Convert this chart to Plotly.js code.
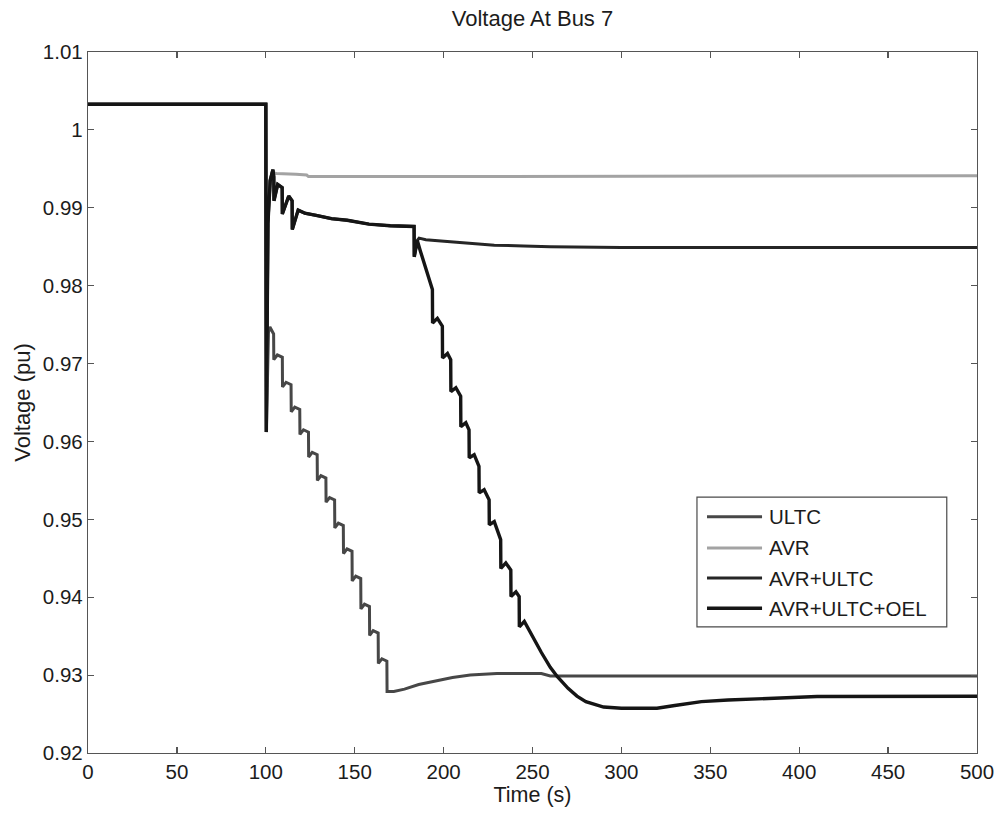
<!DOCTYPE html>
<html>
<head>
<meta charset="utf-8">
<script src="https://cdn.plot.ly/plotly-3.0.1.min.js"></script>
<style>
  html, body { margin: 0; padding: 0; background: #ffffff; }
  #chart { width: 996px; height: 814px; }
</style>
</head>
<body>
<div id="chart"></div>
<script>
// Bus 7 voltage after the disturbance at t = 100 s, for four control setups.

// ULTC only
const tULTC = [0, 100, 100.3, 101.5, 102.3, 104.4, 104.5, 106.5, 109.3, 109.4, 111.4, 114.2, 114.3, 116.3, 119.1,
  119.2, 121.2, 124.0, 124.1, 126.1, 128.9, 129.0, 131.0, 133.8, 133.9, 135.9, 138.7, 138.8, 140.8, 143.6,
  143.7, 145.7, 148.5, 148.6, 150.6, 153.4, 153.5, 155.5, 158.3, 158.4, 160.4, 163.2, 163.3, 165.3, 168.1,
  168.2, 172, 178, 186, 196, 205, 215, 230, 255, 260, 500];
const vULTC = [1.0033, 1.0033, 0.9612, 0.9740, 0.9747, 0.9738, 0.9705, 0.9711, 0.9708, 0.9670, 0.9676, 0.9673, 0.9638, 0.9644, 0.9641,
  0.9609, 0.9615, 0.9612, 0.9580, 0.9586, 0.9583, 0.9550, 0.9556, 0.9553, 0.9522, 0.9528, 0.9525, 0.9489, 0.9495, 0.9492,
  0.9456, 0.9462, 0.9459, 0.9421, 0.9427, 0.9424, 0.9385, 0.9391, 0.9388, 0.9351, 0.9357, 0.9354, 0.9315, 0.9321, 0.9318,
  0.9279, 0.9279, 0.9282, 0.9288, 0.9293, 0.9297, 0.9300, 0.9302, 0.9302, 0.9299, 0.9299];

// AVR only
const tAVR = [0, 100, 100.3, 101.5, 103.5, 106, 117, 123, 124, 140, 500];
const vAVR = [1.0033, 1.0033, 0.9612, 0.9930, 0.9945, 0.9944, 0.9943, 0.9942, 0.9940, 0.9940, 0.9941];

// AVR+ULTC and AVR+ULTC+OEL run together until the tap sequence at ~184 s
const tShared = [0, 100, 100.3, 101.2, 102.5, 104, 104.5, 104.6, 106.7, 109.2, 109.3, 112.9, 114.8, 114.9, 118.2,
  122, 128.9, 137, 145.8, 158, 170, 183.4, 183.5, 185.2];
const vShared = [1.0033, 1.0033, 0.9612, 0.9880, 0.9935, 0.9949, 0.9940, 0.9909, 0.9930, 0.9926, 0.9892, 0.9915, 0.9909, 0.9872, 0.9897,
  0.9893, 0.9890, 0.9886, 0.9884, 0.9879, 0.9877, 0.9876, 0.9837, 0.9858];

// AVR+ULTC after the split
const tAvrUltcTail = [186.2, 190, 200.3, 215, 228.5, 245, 260, 300, 400, 500];
const vAvrUltcTail = [0.9861, 0.9859, 0.9857, 0.9854, 0.9852, 0.9851, 0.9850, 0.9849, 0.9849, 0.9849];

// AVR+ULTC+OEL after the split
const tOelTail = [187, 190, 193.7, 193.8, 196.5, 199.3, 199.4, 202.2, 204.0, 204.1, 206.9, 209.6, 209.7, 212.5, 214.3,
  214.4, 217.2, 219.9, 220.0, 222.8, 225.6, 225.7, 228.5, 232.1, 232.2, 235.0, 237.8, 237.9, 240.7, 242.5,
  242.6, 245.4, 248, 251, 255, 260, 264, 270, 275, 280, 285, 290, 300, 320, 330, 345, 360, 380, 400, 410, 500];
const vOelTail = [0.9844, 0.9823, 0.9795, 0.9752, 0.9758, 0.9748, 0.9707, 0.9713, 0.9705, 0.9664, 0.9669, 0.9658, 0.9619, 0.9624, 0.9615,
  0.9579, 0.9583, 0.9568, 0.9534, 0.9538, 0.9525, 0.9493, 0.9497, 0.9474, 0.9437, 0.9444, 0.9435, 0.9401, 0.9407, 0.9401,
  0.9362, 0.9369, 0.9358, 0.9345, 0.9329, 0.9310, 0.9298, 0.9283, 0.9273, 0.9266, 0.9262, 0.9259, 0.92575, 0.92575, 0.9261, 0.9266, 0.9268, 0.9270, 0.9272, 0.92725, 0.92728];

const xTicks = [0, 50, 100, 150, 200, 250, 300, 350, 400, 450, 500];
const yTicks = [0.92, 0.93, 0.94, 0.95, 0.96, 0.97, 0.98, 0.99, 1.00, 1.01];
const yTickText = ['0.92', '0.93', '0.94', '0.95', '0.96', '0.97', '0.98', '0.99', '1', '1.01'];

const seriesNames = ['ULTC', 'AVR', 'AVR+ULTC', 'AVR+ULTC+OEL'];

const FONT = '"Liberation Sans", Arial, Helvetica, sans-serif';
const TEXT_COLOR = '#1c1c1c';
const FRAME_COLOR = '#555555';

// line style of each series, shared by the traces and the key box
const lineStyles = [
  { color: '#474747', width: 3 },
  { color: '#a3a3a3', width: 3 },
  { color: '#262626', width: 3 },
  { color: '#151515', width: 3.4 }
];

const seriesX = [tULTC, tAVR, tShared.concat(tAvrUltcTail), tShared.concat(tOelTail)];
const seriesY = [vULTC, vAVR, vShared.concat(vAvrUltcTail), vShared.concat(vOelTail)];

const traces = seriesNames.map((name, i) => ({
  type: 'scatter',
  mode: 'lines',
  name: name,
  x: seriesX[i],
  y: seriesY[i],
  line: lineStyles[i],
  showlegend: false
}));

// key box drawn in paper coordinates, lower right of the axes
const keyBox = { x0: 0.685, x1: 0.966, y0: 0.180, y1: 0.365 };
const keyRowY = [0.337, 0.2925, 0.2495, 0.2065];
const keyLine = { x0: 0.6963, x1: 0.7582 };
const keyTextX = 0.7640;

const shapes = [{
  type: 'rect', xref: 'paper', yref: 'paper',
  x0: keyBox.x0, x1: keyBox.x1, y0: keyBox.y0, y1: keyBox.y1,
  line: { color: '#4a4a4a', width: 1.2 }, fillcolor: '#ffffff', layer: 'above'
}].concat(seriesNames.map((n, i) => ({
  type: 'line', xref: 'paper', yref: 'paper',
  x0: keyLine.x0, x1: keyLine.x1, y0: keyRowY[i], y1: keyRowY[i],
  line: lineStyles[i], layer: 'above'
})));

const annotations = seriesNames.map((n, i) => ({
  xref: 'paper', yref: 'paper',
  x: keyTextX, y: keyRowY[i],
  xanchor: 'left', yanchor: 'middle',
  text: n, showarrow: false,
  font: { family: FONT, size: 20.5, color: TEXT_COLOR }
}));

const axisCommon = {
  showline: true,
  linecolor: FRAME_COLOR,
  linewidth: 1.2,
  mirror: 'ticks',
  ticks: 'inside',
  ticklen: 6,
  tickwidth: 1.2,
  tickcolor: FRAME_COLOR,
  showgrid: false,
  zeroline: false,
  tickfont: { family: FONT, size: 20.5, color: TEXT_COLOR }
};

const layout = {
  width: 996,
  height: 814,
  paper_bgcolor: '#ffffff',
  plot_bgcolor: '#ffffff',
  margin: { l: 88, r: 19, t: 52, b: 61 },
  title: {
    text: 'Voltage At Bus 7',
    font: { family: FONT, size: 22, color: TEXT_COLOR },
    x: 0.5, xref: 'paper', xanchor: 'center',
    y: 0.978, yref: 'container', yanchor: 'middle'
  },
  xaxis: Object.assign({}, axisCommon, {
    range: [0, 500],
    tickvals: xTicks,
    ticktext: xTicks.map(String),
    title: { text: 'Time (s)', font: { family: FONT, size: 21.5, color: TEXT_COLOR }, standoff: 2 }
  }),
  yaxis: Object.assign({}, axisCommon, {
    range: [0.92, 1.01],
    tickvals: yTicks,
    ticktext: yTickText,
    title: { text: 'Voltage (pu)', font: { family: FONT, size: 22, color: TEXT_COLOR }, standoff: 6 }
  }),
  showlegend: false,
  shapes: shapes,
  annotations: annotations
};

Plotly.newPlot('chart', traces, layout, { displayModeBar: false, staticPlot: true });
</script>
</body>
</html>
